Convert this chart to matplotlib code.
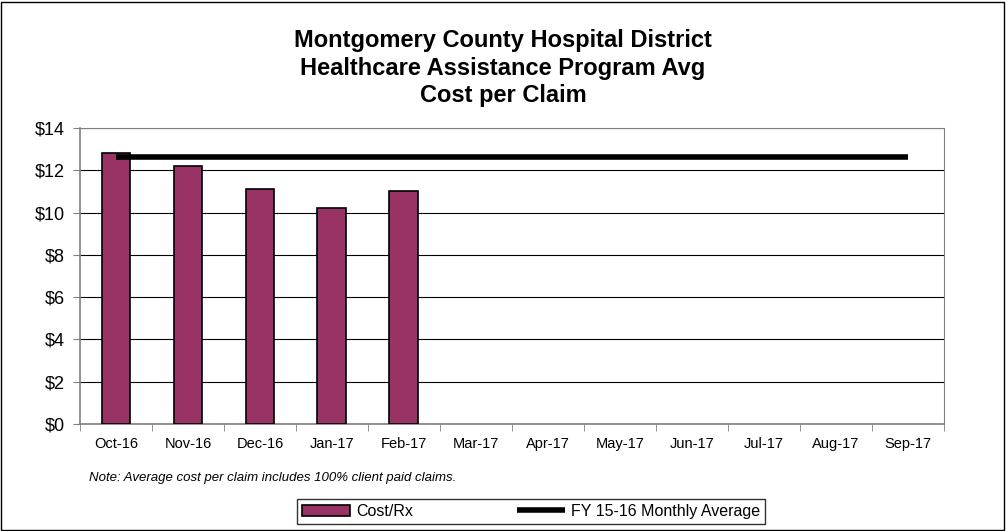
import numpy as np
import matplotlib.pyplot as plt
from matplotlib.patches import Rectangle

plt.rcParams['font.family'] = ['Liberation Sans', 'DejaVu Sans']

months = ["Oct-16", "Nov-16", "Dec-16", "Jan-17", "Feb-17", "Mar-17",
          "Apr-17", "May-17", "Jun-17", "Jul-17", "Aug-17", "Sep-17"]
cost_rx = [12.80, 12.22, 11.11, 10.22, 11.03]
fy_avg = [12.64] * 12

fig = plt.figure(figsize=(10.06, 5.31), dpi=100)
ax = fig.add_axes([0.0795, 0.2015, 0.8585, 0.5575])

x = np.arange(len(months))
bars = ax.bar(x[:len(cost_rx)], cost_rx, width=0.4, color="#993366",
              edgecolor="black", linewidth=1.2, zorder=3, label="Cost/Rx")
line, = ax.plot(x, fy_avg, color="black", linewidth=4, zorder=4,
                solid_capstyle="butt", label="FY 15-16 Monthly Average")

ax.set_xlim(-0.5, 11.5)
ax.set_ylim(0, 14)
ax.set_yticks(np.arange(0, 15, 2))
ax.set_yticklabels(["$%d" % v for v in range(0, 15, 2)], fontsize=13)
ax.set_xticks(x)
ax.set_xticklabels(months, fontsize=10.5)
ax.set_xticks(np.arange(-0.5, 12, 1), minor=True)
ax.tick_params(axis="x", which="major", length=0, pad=9)
ax.tick_params(axis="x", which="minor", length=5, color="#808080")
ax.tick_params(axis="y", length=5, color="#808080", pad=6)
ax.grid(axis="y", color="black", linewidth=0.8, zorder=0)
for s in ["left", "bottom"]:
    ax.spines[s].set_color("#808080")
    ax.spines[s].set_linewidth(1.2)
for s in ["top", "right"]:
    ax.spines[s].set_color("#808080")
    ax.spines[s].set_linewidth(0.8)

fig.text(0.5, 0.871, "Montgomery County Hospital District\n"
         "Healthcare Assistance Program Avg\nCost per Claim",
         ha="center", va="center", fontsize=17, fontweight="bold",
         linespacing=1.25)

fig.text(0.088, 0.1, "Note: Average cost per claim includes 100% client paid claims.",
         fontsize=9.5, style="italic", va="center")

fig.legend([bars, line], ["Cost/Rx", "FY 15-16 Monthly Average"],
           loc="center", bbox_to_anchor=(0.528, 0.037), ncol=2, fontsize=11.5,
           frameon=True, fancybox=False, edgecolor="black", handlelength=3,
           handletextpad=0.4, columnspacing=6.5, borderpad=0.3)

fig.patches.append(Rectangle((0.001, 0.002), 0.997, 0.995, transform=fig.transFigure,
                             fill=False, edgecolor="black", linewidth=1))

plt.savefig("out.png", dpi=100)
